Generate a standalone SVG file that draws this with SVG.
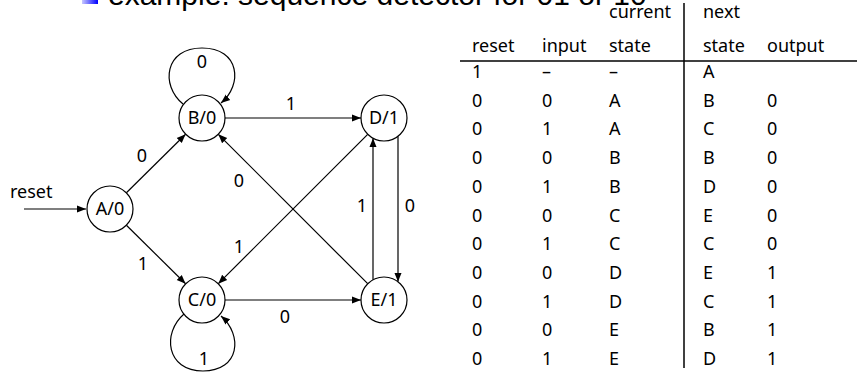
<svg xmlns="http://www.w3.org/2000/svg" width="857" height="372" viewBox="0 0 857 372">
<defs>
<linearGradient id="bul" x1="0" y1="0" x2="1" y2="0">
<stop offset="0" stop-color="#c8c8ff"/>
<stop offset="1" stop-color="#0000ff"/>
</linearGradient>
<marker id="arr" viewBox="0 0 10 10" refX="10" refY="5" markerWidth="9" markerHeight="9" markerUnits="userSpaceOnUse" orient="auto">
<path d="M0,1 L10,5 L0,9 z" fill="#000"/>
</marker>
<style>
text{font-family:"Noto Sans","DejaVu Sans",sans-serif;font-size:18px;fill:#000}
.title{font-family:"Liberation Sans",Arial,sans-serif;font-size:30px}
.node circle{fill:#fff;stroke:#000;stroke-width:1.2}
.node text{text-anchor:middle}
.edge{fill:none;stroke:#000;stroke-width:1.2;marker-end:url(#arr)}
.lbl{text-anchor:middle}
.rule{stroke:#000;stroke-width:1.5}
</style>
</defs>
<rect width="857" height="372" fill="#fff"/>
<g id="title">
<rect x="82" y="-12" width="16" height="16" fill="url(#bul)"/>
<text class="title" x="108" y="5">example: sequence detector for 01 or 10</text>
</g>
<g id="connectors">
<path class="edge" d="M24,209 L86,209"/>
<path class="edge" d="M126.4,192.8 L185.6,134.2"/>
<path class="edge" d="M126.4,225.2 L185.6,283.8"/>
<path class="edge" d="M225,118 L361,118"/>
<path class="edge" d="M225,300 L361,300"/>
<path class="edge" d="M367.7,134.3 L218.3,283.7"/>
<path class="edge" d="M367.7,283.7 L218.3,134.3"/>
<path class="edge" d="M373,279.8 L373,138.2"/>
<path class="edge" d="M398,136.2 L398,281.8"/>
<path class="edge" d="M183,104 C160,85 165,48 202,48 C240,48 243,85 221,103"/>
<path class="edge" d="M184,314 C162,333 166,371 203,371 C240,371 243,335 221,316"/>
<text x="10" y="198">reset</text>
<text class="lbl" x="202" y="68">0</text>
<text class="lbl" x="142" y="162">0</text>
<text class="lbl" x="143" y="270">1</text>
<text class="lbl" x="291" y="110">1</text>
<text class="lbl" x="239" y="187">0</text>
<text class="lbl" x="239" y="253">1</text>
<text class="lbl" x="285" y="323">0</text>
<text class="lbl" x="362" y="212">1</text>
<text class="lbl" x="410" y="212">0</text>
<text class="lbl" x="204" y="365">1</text>
</g>
<g id="A" class="node"><circle cx="110" cy="209" r="23"/><text x="110" y="215">A/0</text></g>
<g id="B" class="node"><circle cx="202" cy="118" r="23"/><text x="202" y="124">B/0</text></g>
<g id="C" class="node"><circle cx="202" cy="300" r="23"/><text x="202" y="306">C/0</text></g>
<g id="D" class="node"><circle cx="384" cy="118" r="23"/><text x="384" y="124">D/1</text></g>
<g id="E" class="node"><circle cx="384" cy="300" r="23"/><text x="384" y="306">E/1</text></g>
<g id="table">
<line class="rule" x1="460" y1="61" x2="857" y2="61"/>
<line class="rule" x1="684" y1="3" x2="684" y2="368"/>
<text x="609" y="18">current</text>
<text x="703" y="18">next</text>
<text x="472" y="52">reset</text>
<text x="542" y="52">input</text>
<text x="609" y="52">state</text>
<text x="703" y="52">state</text>
<text x="767" y="52">output</text>
<g>
<text x="472" y="78">1</text><text x="542" y="78">–</text><text x="609" y="78">–</text><text x="703" y="78">A</text>
<text x="472" y="106.7">0</text><text x="542" y="106.7">0</text><text x="609" y="106.7">A</text><text x="703" y="106.7">B</text><text x="767" y="106.7">0</text>
<text x="472" y="135.4">0</text><text x="542" y="135.4">1</text><text x="609" y="135.4">A</text><text x="703" y="135.4">C</text><text x="767" y="135.4">0</text>
<text x="472" y="164.1">0</text><text x="542" y="164.1">0</text><text x="609" y="164.1">B</text><text x="703" y="164.1">B</text><text x="767" y="164.1">0</text>
<text x="472" y="192.8">0</text><text x="542" y="192.8">1</text><text x="609" y="192.8">B</text><text x="703" y="192.8">D</text><text x="767" y="192.8">0</text>
<text x="472" y="221.5">0</text><text x="542" y="221.5">0</text><text x="609" y="221.5">C</text><text x="703" y="221.5">E</text><text x="767" y="221.5">0</text>
<text x="472" y="250.2">0</text><text x="542" y="250.2">1</text><text x="609" y="250.2">C</text><text x="703" y="250.2">C</text><text x="767" y="250.2">0</text>
<text x="472" y="278.9">0</text><text x="542" y="278.9">0</text><text x="609" y="278.9">D</text><text x="703" y="278.9">E</text><text x="767" y="278.9">1</text>
<text x="472" y="307.6">0</text><text x="542" y="307.6">1</text><text x="609" y="307.6">D</text><text x="703" y="307.6">C</text><text x="767" y="307.6">1</text>
<text x="472" y="336.3">0</text><text x="542" y="336.3">0</text><text x="609" y="336.3">E</text><text x="703" y="336.3">B</text><text x="767" y="336.3">1</text>
<text x="472" y="365">0</text><text x="542" y="365">1</text><text x="609" y="365">E</text><text x="703" y="365">D</text><text x="767" y="365">1</text>
</g>
</g>
</svg>
